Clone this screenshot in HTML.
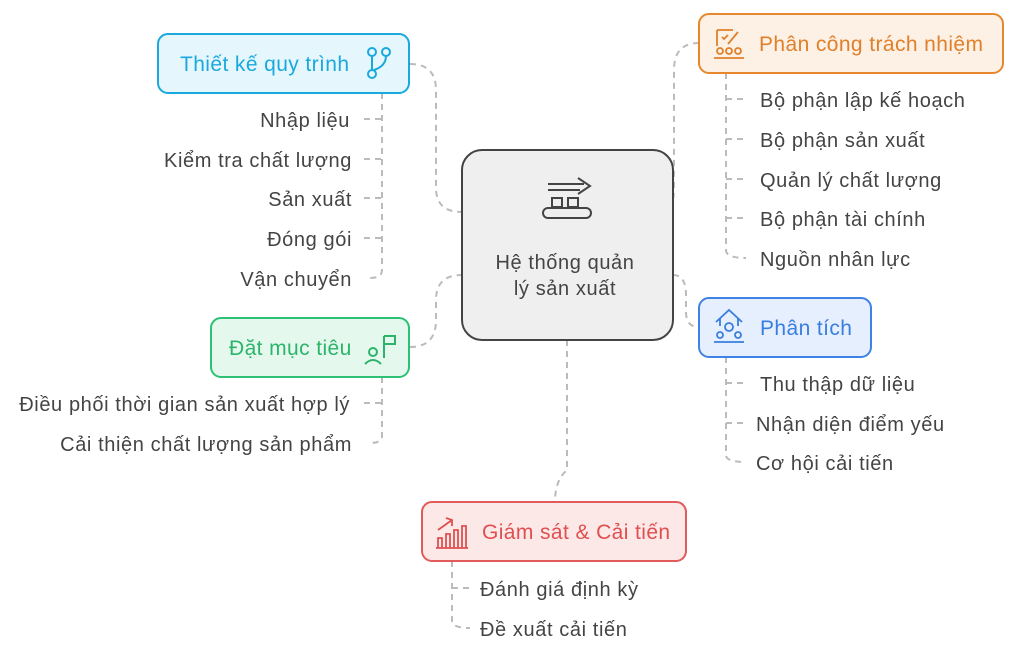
<!DOCTYPE html>
<html><head><meta charset="utf-8"><style>
body{margin:0;background:#fff;}
svg{display:block;font-family:"Liberation Sans","DejaVu Sans",sans-serif;}
.t{font-size:20px;fill:#444;letter-spacing:0.6px;}
.h{font-size:21px;letter-spacing:0.4px;}
.d{fill:none;stroke:#bbb;stroke-width:2;stroke-dasharray:6,5;}
</style></head><body>
<svg width="1018" height="655" viewBox="0 0 1018 655">
<path class="d" d="M410 64 Q436 64 436 90 L436 188 Q436 212 462 212"/>
<path class="d" d="M410 347 Q436 347 436 320 L436 300 Q436 275 462 275"/>
<path class="d" d="M699 43 Q674 43 674 70 L674 188 Q674 212 660 212 L673 212"/>
<path class="d" d="M673 275 Q686 275 686 295 L686 312 Q686 327 699 327"/>
<path class="d" d="M567 340 L567 470 Q555 480 555 502"/>
<path class="d" d="M382 93 L382 270 Q382 278 370 278 M364 119 L382 119 M364 159 L382 159 M364 198 L382 198 M364 238 L382 238"/>
<path class="d" d="M382 377 L382 436 Q382 443 370 443 M364 403 L382 403"/>
<path class="d" d="M726 73 L726 250 Q726 258 746 258 M726 99 L746 99 M726 139 L746 139 M726 179 L746 179 M726 218 L746 218"/>
<path class="d" d="M726 357 L726 455 Q726 462 746 462 M726 383 L746 383 M726 423 L746 423"/>
<path class="d" d="M452 561 L452 621 Q452 628 470 628 M452 588 L470 588"/>
<rect x="462" y="150" width="211" height="190" rx="20" fill="#efefef" stroke="#444" stroke-width="2"/>
<g stroke="#444" stroke-width="2" fill="none">
<path d="M548 184 H584 M578 178 L590 186 L578 194 M548 190 H580"/>
<rect x="552" y="198" width="10" height="9"/><rect x="568" y="198" width="10" height="9"/>
<rect x="543" y="208" width="48" height="10" rx="5"/>
</g>
<text x="565" y="269" text-anchor="middle" class="t">Hệ thống quản</text>
<text x="565" y="295" text-anchor="middle" class="t">lý sản xuất</text>
<rect x="158" y="34" width="251" height="59" rx="10" fill="#e5f7fd" stroke="#1aa9dd" stroke-width="2"/>
<text x="180" y="71" class="h" fill="#1aa9dd">Thiết kế quy trình</text>
<g stroke="#1aa9dd" stroke-width="2" fill="none"><circle cx="372" cy="52" r="4"/><circle cx="386" cy="52" r="4"/><circle cx="372" cy="74" r="4"/><path d="M372 56 V70 M386 56 Q386 66 374 70"/></g>
<text x="350" y="127" text-anchor="end" class="t">Nhập liệu</text>
<text x="352" y="167" text-anchor="end" class="t">Kiểm tra chất lượng</text>
<text x="352" y="206" text-anchor="end" class="t">Sản xuất</text>
<text x="352" y="246" text-anchor="end" class="t">Đóng gói</text>
<text x="352" y="286" text-anchor="end" class="t">Vận chuyển</text>
<rect x="211" y="318" width="198" height="59" rx="10" fill="#e5f8ee" stroke="#2cc173" stroke-width="2"/>
<text x="229" y="355" class="h" fill="#2cb56a">Đặt mục tiêu</text>
<g stroke="#2cb56a" stroke-width="2" fill="none"><path d="M384 336 V358 M384 336 H395 V344 H384"/><circle cx="373" cy="352" r="4"/><path d="M365 364 Q373 356 381 364"/></g>
<text x="350" y="411" text-anchor="end" class="t">Điều phối thời gian sản xuất hợp lý</text>
<text x="352" y="451" text-anchor="end" class="t">Cải thiện chất lượng sản phẩm</text>
<rect x="699" y="14" width="304" height="59" rx="10" fill="#fdf0e5" stroke="#e8882e" stroke-width="2"/>
<text x="759" y="51" class="h" fill="#e0802a">Phân công trách nhiệm</text>
<g stroke="#e0802a" stroke-width="1.8" fill="none"><path d="M717 30 H733 M717 30 V46 M722 37 L724 39 L728 35 M738 32 L728 44"/><circle cx="720" cy="51" r="3"/><circle cx="729" cy="51" r="3"/><circle cx="738" cy="51" r="3"/><path d="M714 58 H744"/></g>
<text x="760" y="107" class="t">Bộ phận lập kế hoạch</text>
<text x="760" y="147" class="t">Bộ phận sản xuất</text>
<text x="760" y="187" class="t">Quản lý chất lượng</text>
<text x="760" y="226" class="t">Bộ phận tài chính</text>
<text x="760" y="266" class="t">Nguồn nhân lực</text>
<rect x="699" y="298" width="172" height="59" rx="10" fill="#e6effd" stroke="#3f82e6" stroke-width="2"/>
<text x="760" y="335" class="h" fill="#3a7de0">Phân tích</text>
<g stroke="#3a7de0" stroke-width="1.8" fill="none"><path d="M716 322 L729 310 L742 322 M720 318 V326 M738 318 V326"/><circle cx="729" cy="327" r="4"/><circle cx="720" cy="335" r="3"/><circle cx="738" cy="335" r="3"/><path d="M714 342 H744"/></g>
<text x="760" y="391" class="t">Thu thập dữ liệu</text>
<text x="756" y="431" class="t">Nhận diện điểm yếu</text>
<text x="756" y="470" class="t">Cơ hội cải tiến</text>
<rect x="422" y="502" width="264" height="59" rx="10" fill="#fde8e8" stroke="#e35a5a" stroke-width="2"/>
<text x="482" y="539" class="h" fill="#e04f4f">Giám sát &amp; Cải tiến</text>
<g stroke="#e04f4f" stroke-width="1.8" fill="none"><path d="M438 548 V538 H442 V548 M446 548 V534 H450 V548 M454 548 V530 H458 V548 M462 548 V526 H466 V548 M436 548 H468 M438 530 L452 520 M446 518 L452 520 L452 526"/></g>
<text x="480" y="596" class="t">Đánh giá định kỳ</text>
<text x="480" y="636" class="t">Đề xuất cải tiến</text>
</svg>
</body></html>
